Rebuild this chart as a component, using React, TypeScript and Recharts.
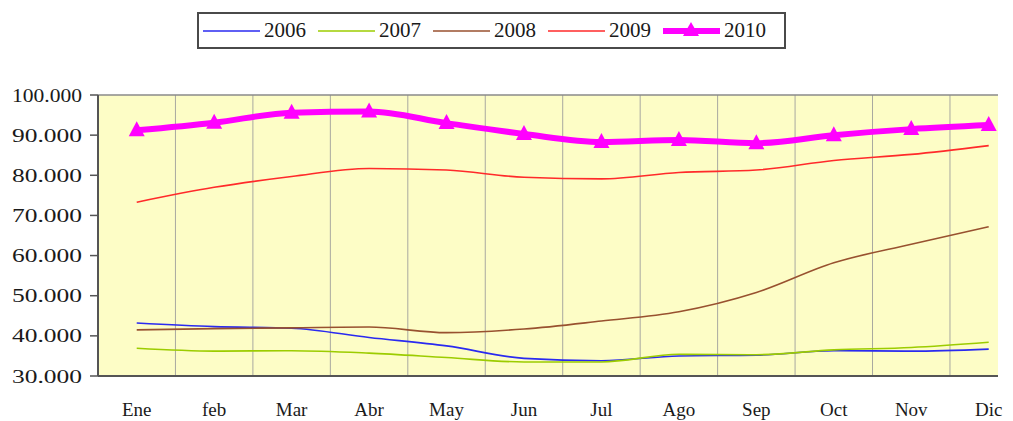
import React from 'react';
import { LineChart, Line, XAxis, YAxis, ReferenceLine, ReferenceArea, Legend } from 'recharts';

const months = ['Ene', 'feb', 'Mar', 'Abr', 'May', 'Jun', 'Jul', 'Ago', 'Sep', 'Oct', 'Nov', 'Dic'];
const v2006 = [43200, 42300, 41900, 39600, 37500, 34400, 33800, 35000, 35200, 36300, 36200, 36700];
const v2007 = [36900, 36200, 36300, 35700, 34600, 33500, 33500, 35400, 35300, 36500, 37100, 38400];
const v2008 = [41500, 41800, 42000, 42200, 40800, 41700, 43700, 46000, 50800, 58200, 62800, 67200];
const v2009 = [73300, 77000, 79700, 81700, 81300, 79500, 79100, 80700, 81300, 83700, 85200, 87400];
const v2010 = [91200, 93100, 95600, 95900, 93000, 90300, 88300, 88800, 88000, 90000, 91500, 92500];
const yTicks = [30000, 40000, 50000, 60000, 70000, 80000, 90000, 100000];

const seriesNames = ['2006', '2007', '2008', '2009', '2010'];
const seriesColors = ['#2a2af0', '#9ccc00', '#98512f', '#ff2a2a', '#ff00ff'];
const seriesValues = [v2006, v2007, v2008, v2009, v2010];

const data = months.map((m, i) => {
  const row: any = { i, name: m };
  seriesNames.forEach((s, k) => { row['y' + s] = seriesValues[k][i]; });
  return row;
});

const X_MIN = -0.5;
const X_MAX = 11.12;
const gridXs = months.slice(1).map((_, i) => i + 0.5);

const FONT = "'Liberation Serif', 'Times New Roman', serif";

const fmt = (v: number) => String(v).replace(/\B(?=(\d{3})+(?!\d))/g, '.');

const XTick = (props: any) => {
  const { x, y, payload } = props;
  return (
    <text x={x} y={y + 40} textAnchor="middle" fontFamily={FONT} fontSize={19} fill="#1a1a1a">
      {months[payload.value]}
    </text>
  );
};

const YTick = (props: any) => {
  const { x, y, payload } = props;
  return (
    <text x={x} y={y} dy={6.5} textAnchor="end" fontFamily={FONT} fontSize={19} fill="#1a1a1a" textLength={70} lengthAdjust="spacingAndGlyphs">
      {fmt(payload.value)}
    </text>
  );
};

const Triangle = (props: any) => {
  const { cx, cy } = props;
  if (cx == null || cy == null) return null;
  return <polygon points={`${cx},${cy - 9} ${cx - 8},${cy + 6} ${cx + 8},${cy + 6}`} fill="#ff00ff" />;
};

const LegendContent = () => (
  <div
    style={{
      boxSizing: 'border-box',
      width: 589,
      height: 37,
      border: '2px solid #4a4a4a',
      background: 'rgba(255,255,255,0.6)',
      display: 'flex',
      alignItems: 'center',
      paddingLeft: 4,
      fontFamily: FONT,
      fontSize: 21,
      color: '#1a1a1a',
    }}
  >
    {seriesNames.map((s, k) => (
      <div key={s} style={{ display: 'flex', alignItems: 'center', width: 115 }}>
        <svg width={57} height={20} style={{ display: 'block' }}>
          <line x1={0} y1={10} x2={57} y2={10} stroke={seriesColors[k]} strokeWidth={k === 4 ? 6 : 1.6} />
          {k === 4 && <polygon points="28,1 20,15 36,15" fill="#ff00ff" />}
        </svg>
        <span style={{ marginLeft: 4, lineHeight: '21px' }}>{s}</span>
      </div>
    ))}
  </div>
);

export default function App() {
  return (
    <div style={{ position: 'absolute', left: 0, top: 0, width: 1013, height: 421, background: '#ffffff' }}>
      <LineChart width={1013} height={421} data={data} margin={{ top: 95, right: 15, bottom: 15, left: 0 }}>
        <ReferenceArea x1={X_MIN} x2={X_MAX} y1={30000} y2={100000} fill="#fdfdc6" fillOpacity={1} stroke="none" ifOverflow="hidden" />
        {gridXs.map((gx) => (
          <ReferenceLine key={gx} x={gx} stroke="#a8a8a0" strokeWidth={1} />
        ))}
        <ReferenceLine y={100000} stroke="#8a8a8a" strokeWidth={1.5} />
        <XAxis
          type="number"
          dataKey="i"
          domain={[X_MIN, X_MAX]}
          ticks={months.map((_, i) => i)}
          allowDataOverflow
          height={30}
          tickLine={false}
          tickSize={0}
          tickMargin={0}
          tick={<XTick />}
          axisLine={{ stroke: '#555555', strokeWidth: 2 }}
          interval={0}
        />
        <YAxis
          type="number"
          domain={[30000, 100000]}
          ticks={yTicks}
          width={98}
          tickSize={8}
          tickMargin={8}
          tick={<YTick />}
          tickLine={{ stroke: '#555555', strokeWidth: 1.5 }}
          axisLine={{ stroke: '#555555', strokeWidth: 2 }}
          interval={0}
        />
        <Legend
          layout="horizontal"
          verticalAlign="middle"
          align="center"
          content={<LegendContent />}
          wrapperStyle={{ top: 12, left: 197, width: 589, height: 37 }}
        />
        {seriesNames.slice(0, 4).map((s, k) => (
          <Line
            key={s}
            type="monotone"
            dataKey={'y' + s}
            name={s}
            stroke={seriesColors[k]}
            strokeWidth={1.6}
            dot={false}
            isAnimationActive={false}
          />
        ))}
        <Line
          type="monotone"
          dataKey="y2010"
          name="2010"
          stroke="#ff00ff"
          strokeWidth={6}
          dot={<Triangle />}
          isAnimationActive={false}
        />
      </LineChart>
    </div>
  );
}
